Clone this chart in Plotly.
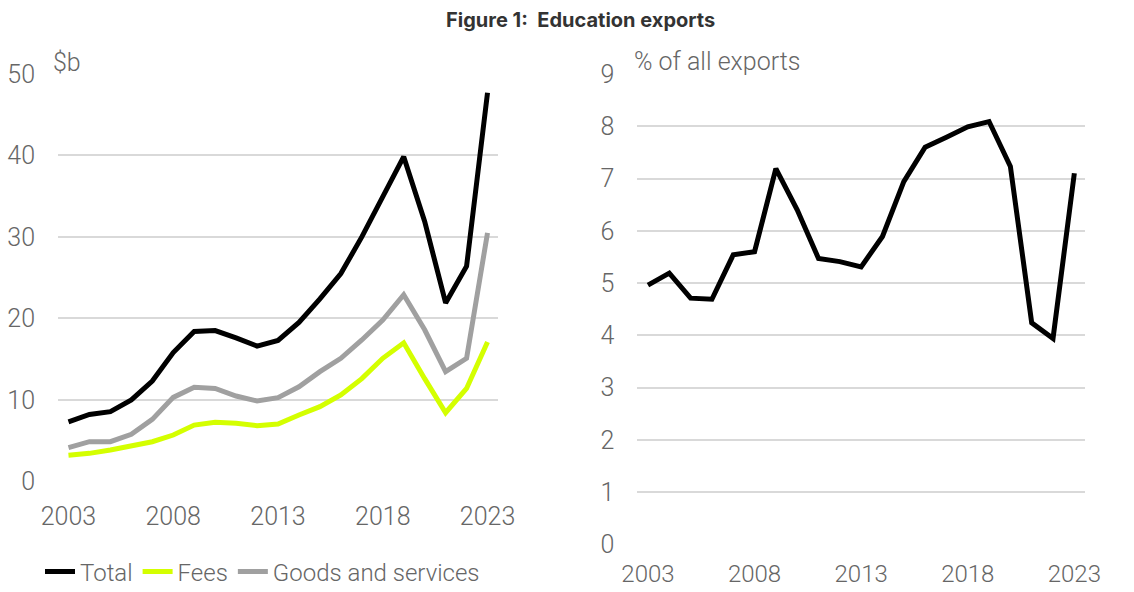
import plotly.graph_objects as go

years = list(range(2003, 2024))
total = [7.3, 8.2, 8.55, 10.0, 12.3, 15.8, 18.4, 18.5, 17.6, 16.6, 17.3, 19.5,
         22.4, 25.5, 30.0, 34.9, 39.85, 31.9, 21.9, 26.4, 47.7]
fees = [3.2, 3.43, 3.84, 4.33, 4.86, 5.68, 6.9, 7.24, 7.12, 6.83, 7.03, 8.14,
        9.16, 10.6, 12.6, 15.1, 17.0, 12.6, 8.42, 11.4, 17.1]
goods = [4.13, 4.86, 4.86, 5.77, 7.6, 10.3, 11.54, 11.4, 10.47, 9.86, 10.27, 11.6,
         13.46, 15.1, 17.35, 19.8, 22.9, 18.6, 13.46, 15.1, 30.5]
share = [4.96, 5.19, 4.71, 4.69, 5.54, 5.6, 7.19, 6.4, 5.47, 5.41, 5.31, 5.89,
         6.94, 7.6, 7.79, 7.99, 8.09, 7.23, 4.24, 3.94, 7.1]

xticks = [2003, 2008, 2013, 2018, 2023]
left_yticks = [0, 10, 20, 30, 40, 50]
right_yticks = list(range(0, 10))

TICK_FONT = dict(family="Roboto", size=25, color="#666666", weight=300)
TICK_FONT_SMALL = dict(family="Roboto", size=24, color="#666666", weight=300)
GRID = "#d9d9d9"

fig = go.Figure()
fig.add_trace(go.Scatter(x=years, y=total, name="Total", mode="lines",
                         line=dict(color="#000000", width=5), xaxis="x", yaxis="y"))
fig.add_trace(go.Scatter(x=years, y=fees, name="Fees", mode="lines",
                         line=dict(color="#d4ff00", width=5), xaxis="x", yaxis="y"))
fig.add_trace(go.Scatter(x=years, y=goods, name="Goods and services", mode="lines",
                         line=dict(color="#a0a0a0", width=5), xaxis="x", yaxis="y"))
fig.add_trace(go.Scatter(x=years, y=share, name="Share", mode="lines", showlegend=False,
                         line=dict(color="#000000", width=5), xaxis="x2", yaxis="y2"))

W, H = 1134, 592
def px_x(p):
    return p / W
def px_y(p):
    return 1 - p / H

common_x = dict(range=[2002.5, 2023.5], tickvals=xticks, showgrid=False, zeroline=False,
                showline=False, ticks="", automargin=False)
common_y = dict(showgrid=True, gridcolor=GRID, gridwidth=2, zeroline=False, showline=False,
                ticks="", tickfont=TICK_FONT, ticklabelstandoff=22, automargin=False)

fig.update_layout(
    width=W, height=H,
    margin=dict(l=0, r=0, t=0, b=0, autoexpand=False),
    paper_bgcolor="white", plot_bgcolor="white",
    xaxis=dict(domain=[px_x(58), px_x(498)], anchor="y", tickfont=TICK_FONT,
               ticklabelstandoff=18, **common_x),
    yaxis=dict(domain=[px_y(481.3), px_y(74)], anchor="x", range=[0, 50],
               tickvals=left_yticks, **common_y),
    xaxis2=dict(domain=[px_x(637.3), px_x(1085)], anchor="y2", tickfont=TICK_FONT_SMALL,
                ticklabelstandoff=13, **common_x),
    yaxis2=dict(domain=[px_y(544.3), px_y(74)], anchor="x2", range=[0, 9],
                tickvals=right_yticks, **common_y),
    showlegend=True,
    legend=dict(orientation="h", x=px_x(40), y=px_y(572), xanchor="left", yanchor="middle",
                font=dict(family="Roboto", size=24, color="#666666", weight=300),
                itemwidth=30, tracegroupgap=0, bgcolor="rgba(0,0,0,0)"),
    annotations=[
        dict(text="<b>Figure 1:  Education exports</b>", x=px_x(580), y=px_y(20),
             xref="paper", yref="paper", showarrow=False, xanchor="center", yanchor="middle",
             font=dict(family="Inter", size=20, color="#333333")),
        dict(text="$b", x=px_x(51), y=px_y(63), xref="paper", yref="paper", showarrow=False,
             xanchor="left", yanchor="middle", font=TICK_FONT),
        dict(text="% of all exports", x=px_x(632), y=px_y(62), xref="paper", yref="paper",
             showarrow=False, xanchor="left", yanchor="middle", font=TICK_FONT),
    ],
)

fig.write_html("out.html")
